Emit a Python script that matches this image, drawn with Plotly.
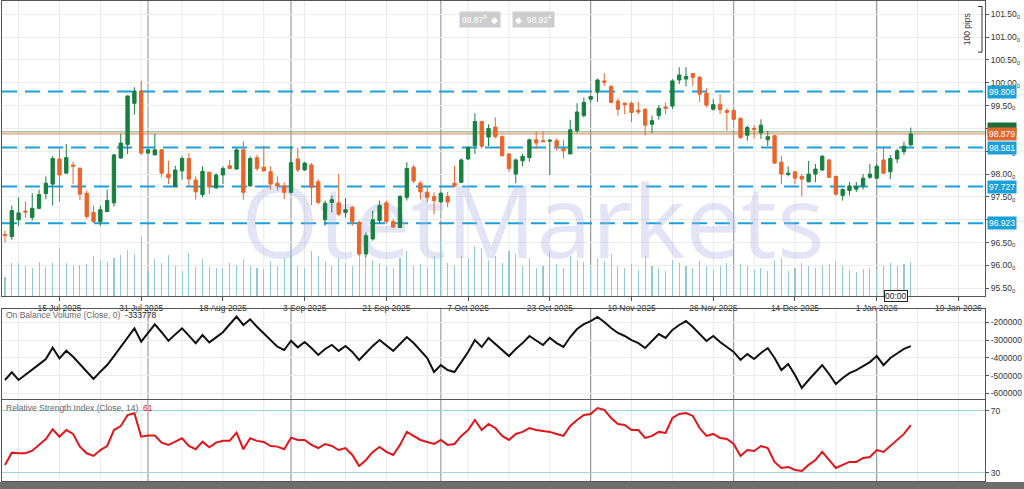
import plotly.graph_objects as go

# ---------------- data ----------------
open_ = [96.68, 96.63, 97.00, 97.19, 97.05, 97.25, 97.57, 97.78, 98.33, 98.02,
         98.20, 98.13, 97.58, 97.16, 96.96, 97.18, 97.37, 98.35, 98.65, 99.55,
         99.82, 98.46, 98.42, 98.53, 98.00, 97.73, 98.07, 98.34, 97.87, 97.55,
         98.04, 97.70, 97.98, 98.18, 98.11, 98.53, 97.74, 98.36, 98.15, 98.05,
         97.80, 97.74, 97.60, 98.33, 98.09, 98.20, 97.83, 97.00, 97.38, 97.37,
         97.16, 97.27, 96.94, 96.25, 96.58, 96.98, 97.37, 96.96, 96.83, 97.49,
         98.15, 97.80, 97.60, 97.51, 97.39, 97.51, 97.80, 97.82, 98.33, 98.62,
         99.15, 98.81, 99.03, 98.82, 98.44, 98.00, 98.29, 98.36, 98.75, 98.73,
         98.72, 98.73, 98.56, 98.44, 98.95, 99.28, 99.64, 99.79, 100.04, 99.92,
         99.60, 99.55, 99.55, 99.40, 99.42, 99.09, 99.28, 99.47, 99.49, 100.06,
         100.08, 100.20, 100.12, 99.77, 99.42, 99.53, 99.39, 99.39, 99.22, 98.85,
         99.00, 98.90, 98.75, 98.84, 98.26, 97.99, 98.05, 97.95, 97.83, 98.00,
         98.09, 98.31, 97.95, 97.53, 97.64, 97.67, 97.74, 97.93, 97.91, 98.31,
         98.05, 98.33, 98.49, 98.64]
high_ = [96.76, 97.31, 97.49, 97.40, 97.58, 97.66, 97.95, 98.39, 98.58, 98.66,
         98.27, 98.14, 97.64, 97.31, 97.31, 97.66, 98.44, 98.88, 99.72, 99.90,
         100.04, 98.55, 98.88, 98.55, 98.29, 98.18, 98.39, 98.46, 97.95, 98.17,
         98.05, 98.02, 98.17, 98.31, 98.56, 98.72, 98.39, 98.42, 98.62, 98.17,
         97.95, 97.82, 98.61, 98.58, 98.27, 98.24, 97.89, 97.42, 97.53, 98.00,
         97.47, 97.31, 96.98, 96.72, 97.20, 97.42, 97.42, 97.02, 97.54, 98.26,
         98.20, 97.85, 97.71, 97.60, 97.61, 97.61, 98.18, 98.34, 98.61, 99.33,
         99.17, 99.09, 99.24, 98.85, 98.46, 98.34, 98.44, 98.78, 98.93, 98.93,
         98.77, 98.78, 98.75, 99.19, 99.55, 99.68, 99.71, 100.09, 100.21, 99.95,
         99.66, 99.57, 99.59, 99.58, 99.44, 99.28, 99.51, 99.57, 100.08, 100.34,
         100.34, 100.21, 100.15, 99.88, 99.64, 99.75, 99.44, 99.42, 99.24, 99.06,
         99.07, 99.20, 98.95, 98.85, 98.40, 98.17, 98.07, 98.00, 98.29, 98.22,
         98.42, 98.33, 97.96, 97.69, 97.83, 97.83, 98.00, 98.22, 98.22, 98.61,
         98.42, 98.56, 98.71, 99.02]
low_ = [96.50, 96.56, 96.86, 97.04, 96.98, 97.23, 97.45, 97.31, 97.39, 98.02,
        97.78, 97.43, 97.02, 96.93, 96.87, 97.17, 97.29, 98.33, 98.44, 99.30,
        98.42, 98.44, 98.41, 97.93, 97.78, 97.72, 97.88, 97.73, 97.44, 97.49,
        97.56, 97.67, 97.78, 98.11, 98.10, 97.44, 97.73, 98.07, 98.06, 97.66,
        97.64, 97.45, 97.58, 98.04, 98.07, 97.32, 97.34, 96.87, 97.16, 97.08,
        97.05, 96.87, 96.21, 96.18, 96.54, 96.91, 96.91, 96.83, 96.82, 97.42,
        97.80, 97.45, 97.38, 97.12, 97.38, 97.27, 97.71, 97.80, 98.31, 98.44,
        98.56, 98.61, 98.78, 98.39, 98.05, 97.80, 98.17, 98.27, 98.55, 98.71,
        97.98, 98.51, 98.34, 98.44, 98.90, 99.24, 99.58, 99.58, 99.93, 99.55,
        99.28, 99.31, 99.14, 99.31, 98.85, 98.90, 99.19, 99.31, 99.42, 99.97,
        99.92, 99.93, 99.58, 99.46, 99.39, 99.31, 98.95, 99.19, 98.77, 98.73,
        98.78, 98.77, 98.61, 98.22, 97.78, 97.95, 97.78, 97.51, 97.82, 97.82,
        98.07, 97.91, 97.53, 97.42, 97.53, 97.61, 97.66, 97.89, 97.89, 98.00,
        97.89, 98.24, 98.42, 98.61]
close_ = [96.66, 97.20, 97.15, 97.17, 97.25, 97.55, 97.80, 98.34, 97.98, 98.36,
          98.17, 97.56, 97.07, 96.96, 97.22, 97.42, 98.42, 98.68, 99.71, 99.82,
          98.46, 98.53, 98.53, 98.02, 97.92, 98.09, 98.34, 97.89, 97.61, 98.06,
          97.72, 97.98, 98.12, 98.12, 98.53, 97.60, 98.34, 98.12, 98.07, 97.78,
          97.74, 97.60, 98.25, 98.09, 98.24, 97.71, 97.38, 97.36, 97.44, 97.12,
          97.22, 96.96, 96.25, 96.65, 97.00, 97.31, 96.96, 96.84, 97.51, 98.12,
          97.85, 97.61, 97.49, 97.42, 97.58, 97.39, 97.74, 98.31, 98.58, 99.15,
          98.61, 99.00, 98.82, 98.40, 98.12, 98.31, 98.39, 98.75, 98.68, 98.71,
          98.74, 98.61, 98.51, 98.97, 99.36, 99.57, 99.70, 100.06, 100.01, 99.57,
          99.42, 99.52, 99.35, 99.36, 99.07, 99.17, 99.44, 99.44, 100.04, 100.17,
          100.14, 100.12, 99.75, 99.51, 99.52, 99.41, 99.35, 99.20, 98.80, 99.02,
          98.98, 99.07, 98.82, 98.24, 98.00, 98.02, 97.91, 97.89, 98.00, 98.11,
          98.39, 97.93, 97.56, 97.66, 97.74, 97.73, 97.91, 98.00, 98.17, 98.02,
          98.34, 98.51, 98.61, 98.879]
volume = [19, 33, 33, 30, 28, 34, 29, 33, 48, 33,
          30, 31, 32, 40, 36, 34, 38, 41, 46, 42,
          60, 25, 37, 33, 41, 30, 25, 43, 29, 37,
          29, 28, 28, 33, 31, 37, 30, 28, 27, 35,
          30, 38, 42, 30, 28, 45, 40, 35, 30, 38,
          33, 30, 48, 40, 36, 33, 30, 28, 38, 45,
          30, 32, 28, 40, 55, 33, 30, 40, 38, 50,
          48, 36, 40, 33, 45, 42, 30, 38, 28, 30,
          44, 32, 28, 40, 36, 34, 30, 38, 35, 42,
          30, 28, 32, 26, 40, 30, 28, 25, 36, 33,
          30, 28, 35, 30, 26, 30, 33, 27, 32, 30,
          26, 28, 25, 36, 38, 25, 28, 33, 30, 28,
          30, 32, 35, 30, 26, 24, 27, 28, 26, 30,
          33, 30, 32, 34]
obv = [-525000, -482000, -525000, -497000, -469000, -437000, -407000, -343000, -403000, -360000,
       -394000, -435000, -476000, -519000, -478000, -441000, -390000, -337000, -281000, -234000,
       -309000, -262000, -211000, -256000, -304000, -268000, -234000, -275000, -318000, -272000,
       -313000, -285000, -256000, -211000, -168000, -215000, -183000, -225000, -262000, -304000,
       -337000, -356000, -304000, -341000,
       -311000, -345000, -384000, -350000, -327000, -361000, -333000, -367000, -412000, -373000,
       -333000, -300000, -333000, -361000, -322000, -283000, -317000, -356000, -401000, -480000,
       -441000, -469000, -480000, -424000, -367000, -300000, -339000, -288000, -322000, -356000,
       -390000, -350000, -317000, -277000, -305000, -328000, -288000, -317000, -339000, -283000,
       -238000, -210000, -193000, -170000, -198000, -232000, -260000, -277000, -300000, -317000,
       -345000, -305000, -266000, -288000, -243000, -215000, -193000, -226000, -266000, -305000,
       -277000, -311000, -339000, -367000, -412000, -379000, -407000, -373000, -345000, -401000,
       -469000, -435000, -497000, -570000, -525000, -480000, -441000, -491000, -548000, -514000,
       -486000, -469000, -446000, -424000, -390000, -441000, -401000, -373000, -350000, -333778]
rsi = [35.0, 42.9, 42.5, 42.5, 44.2, 47.9, 51.7, 58.0, 53.2, 57.5,
       55.0, 46.8, 42.5, 40.8, 44.6, 47.2, 57.5, 60.1, 67.2, 68.3,
       53.2, 53.9, 53.9, 49.4, 47.9, 50.0, 52.2, 47.2, 45.1, 50.0,
       46.4, 49.4, 50.6, 50.6, 55.8, 45.1, 52.2, 50.5, 49.8, 47.2,
       46.8, 45.1, 52.6, 51.1,
       51.1, 47.9, 45.9, 48.5, 47.2, 44.6, 45.9, 41.4, 34.3, 38.2,
       43.4, 46.6, 43.4, 41.4, 47.9, 56.3, 53.7, 51.1, 49.8, 48.5,
       51.1, 47.9, 48.5, 53.7, 57.5, 64.0, 57.5, 61.4, 58.8, 53.7,
       51.1, 55.0, 56.3, 58.8, 57.5, 56.9, 56.3, 55.0, 53.7, 60.1,
       64.0, 67.2, 67.9, 71.7, 70.5, 65.3, 61.4, 60.8, 57.5, 57.5,
       52.4, 53.7, 56.3, 55.6, 65.3, 67.9, 68.5, 66.6, 58.8, 53.7,
       55.0, 52.4, 51.7, 48.5, 40.8, 44.6, 44.0, 47.2, 45.9, 36.9,
       33.0, 33.7, 31.7, 31.1, 35.0, 38.2, 43.4, 38.2, 33.0, 35.0,
       36.9, 36.9, 39.5, 40.1, 44.6, 43.4, 47.2, 51.1, 55.0, 60.7]

tick_pos = [8, 20, 32, 44, 56, 68, 80, 92, 104, 116, 128, 140]
tick_labels = ["15 Jul 2025", "31 Jul 2025", "18 Aug 2025", "3 Sep 2025", "21 Sep 2025",
               "7 Oct 2025", "23 Oct 2025", "10 Nov 2025", "26 Nov 2025", "14 Dec 2025",
               "1 Jan 2026", "19 Jan 2026"]
month_lines = [21, 42, 64, 86, 107, 128]
levels = [99.806, 98.581, 97.727, 96.923]
bid, ask = 98.879, 98.924
price_ticks = [95.5, 96.0, 96.5, 97.0, 97.5, 98.0, 98.5, 99.0, 99.5, 100.0, 100.5, 101.0, 101.5]
obv_ticks = [-200000, -300000, -400000, -500000, -600000]
rsi_ticks = [30, 70]

# ---------------- layout helpers ----------------
W, H = 1024, 489
ML, MR = 2, 39
PW = W - ML - MR
def py(px):
    return 1 - px / H
def pxx(px):
    return (px - ML) / PW

main_dom = [py(296), py(1)]
obv_dom = [py(399), py(309)]
rsi_dom = [py(481), py(400)]
x_range = [-0.44, 143.9]

GREEN = "#17803f"
ORANGE = "#e9652c"
CYAN = "#1ca0da"
FONT = "Liberation Sans"
FS = 8.5

N = len(close_)
x = list(range(N))

fig = go.Figure()

# watermark on base price axis (drawn beneath overlaid candle axis)
fig.add_trace(go.Scatter(
    x=[77.5], y=[96.72], mode="text", text=["OtetMarkets"],
    textfont=dict(family="Open Sans", size=100, color="rgba(178,184,232,0.36)"),
    textposition="middle center", xaxis="x", yaxis="y", hoverinfo="skip", showlegend=False))

# volume
fig.add_trace(go.Bar(x=x, y=volume, width=0.16, marker=dict(color="#92c9d4", line=dict(width=0)),
                     xaxis="x", yaxis="y4", showlegend=False, hoverinfo="skip"))

# candles
fig.add_trace(go.Candlestick(
    x=x, open=open_, high=high_, low=low_, close=close_,
    increasing=dict(line=dict(color=GREEN, width=1), fillcolor=GREEN),
    decreasing=dict(line=dict(color=ORANGE, width=1), fillcolor=ORANGE),
    whiskerwidth=0, xaxis="x", yaxis="y5", showlegend=False))

# OBV
fig.add_trace(go.Scatter(x=x, y=obv, mode="lines", line=dict(color="#111111", width=2),
                         xaxis="x2", yaxis="y2", showlegend=False, hoverinfo="skip"))
# RSI
fig.add_trace(go.Scatter(x=x, y=rsi, mode="lines", line=dict(color="#e0161a", width=2),
                         xaxis="x3", yaxis="y3", showlegend=False, hoverinfo="skip"))

axis_common = dict(showline=True, linecolor="#555555", linewidth=1, mirror=True,
                   zeroline=False, automargin=False)
tickfont = dict(family=FONT, size=FS, color="#333333")

fig.update_layout(
    width=W, height=H, margin=dict(l=ML, r=MR, t=0, b=0, autoexpand=False),
    paper_bgcolor="white", plot_bgcolor="white", showlegend=False,
    font=dict(family=FONT, size=FS, color="#333333"),
    hovermode=False, bargap=0,
    xaxis=dict(domain=[0, 1], anchor="y", range=x_range, tickmode="array",
               tickvals=tick_pos, ticktext=tick_labels, ticks="outside", ticklen=4,
               tickcolor="#555555", tickfont=tickfont, showgrid=False,
               rangeslider=dict(visible=False), **axis_common),
    xaxis2=dict(domain=[0, 1], anchor="y2", range=x_range, matches="x",
                showticklabels=False, ticks="", showgrid=False, **axis_common),
    xaxis3=dict(domain=[0, 1], anchor="y3", range=x_range, matches="x",
                showticklabels=False, ticks="", showgrid=False, **axis_common),
    yaxis=dict(domain=main_dom, anchor="x", side="right", range=[95.33, 101.79],
               tickmode="array", tickvals=price_ticks,
               ticktext=[f"{v:.2f}<sub>0</sub>" for v in price_ticks],
               ticks="outside", ticklen=3, tickcolor="#555555", tickfont=tickfont,
               showgrid=True, gridcolor="#ececec", gridwidth=1, **axis_common),
    yaxis4=dict(overlaying="y", anchor="x", range=[0, 295], visible=False, automargin=False),
    yaxis5=dict(overlaying="y", anchor="x", range=[95.33, 101.79], visible=False, automargin=False),
    yaxis2=dict(domain=obv_dom, anchor="x2", side="right", range=[-632000, -125000],
                tickmode="array", tickvals=obv_ticks, ticktext=[str(v) for v in obv_ticks],
                ticks="outside", ticklen=3, tickcolor="#555555", tickfont=tickfont,
                showgrid=True, gridcolor="#ececec", **axis_common),
    yaxis3=dict(domain=rsi_dom, anchor="x3", side="right", range=[24.6, 76.9],
                tickmode="array", tickvals=rsi_ticks, ticktext=[str(v) for v in rsi_ticks],
                ticks="outside", ticklen=3, tickcolor="#555555", tickfont=tickfont,
                showgrid=True, gridcolor="#9fd4e3", gridwidth=1.5, **axis_common),
)

shapes = []
# vertical grid lines
for yr in ["y domain", "y2 domain", "y3 domain"]:
    for k in range(2, 144, 6):
        shapes.append(dict(type="line", xref="x", yref=yr, x0=k, x1=k, y0=0, y1=1,
                           line=dict(color="#e8e8e8", width=1), layer="below"))
    for k in month_lines:
        shapes.append(dict(type="line", xref="x", yref=yr, x0=k, x1=k, y0=0, y1=1,
                           line=dict(color="#8a8a8a", width=1), layer="below"))
# support/resistance levels
for lv in levels:
    shapes.append(dict(type="line", xref="paper", yref="y", x0=0, x1=1, y0=lv, y1=lv,
                       line=dict(color=CYAN, width=2, dash="15px,8px"), layer="below"))
# bid / ask lines
shapes.append(dict(type="line", xref="paper", yref="y", x0=0, x1=1, y0=ask, y1=ask,
                   line=dict(color="#7f9e66", width=1), layer="below"))
shapes.append(dict(type="line", xref="paper", yref="y", x0=0, x1=1, y0=bid, y1=bid,
                   line=dict(color="#d9845a", width=1), layer="below"))
# 100 pips bracket
bx = pxx(982)
shapes.append(dict(type="line", xref="paper", yref="y", x0=bx, x1=bx, y0=100.67, y1=101.67,
                   line=dict(color="#333333", width=1)))
for yy in (100.67, 101.67):
    shapes.append(dict(type="line", xref="paper", yref="y", x0=pxx(978), x1=bx, y0=yy, y1=yy,
                       line=dict(color="#333333", width=1)))
# bottom bar
shapes.append(dict(type="rect", xref="paper", yref="paper", x0=-ML / PW, x1=1 + MR / PW,
                   y0=0, y1=py(482), fillcolor="#6e6e6e", line=dict(width=0)))
fig.update_layout(shapes=shapes)

ann = []
for lv in levels:
    ann.append(dict(xref="paper", yref="y", x=1, y=lv, xanchor="left", yanchor="middle",
                    xshift=2, text=f"{lv:.3f}", showarrow=False, bgcolor=CYAN,
                    font=dict(family=FONT, size=FS, color="white"), borderpad=1))
ann.append(dict(xref="paper", yref="y", x=1, y=ask, xanchor="left", yanchor="middle",
                xshift=2, yshift=3, text="98.924", showarrow=False, bgcolor="#1b6e3a",
                font=dict(family=FONT, size=FS, color="#1b6e3a"), borderpad=1))
ann.append(dict(xref="paper", yref="y", x=1, y=bid, xanchor="left", yanchor="middle",
                xshift=2, text="98.879", showarrow=False, bgcolor="#e2672f",
                font=dict(family=FONT, size=FS, color="white"), borderpad=1))
# 100 pips text
ann.append(dict(xref="paper", yref="y", x=pxx(974), y=101.17, text="100 pips", textangle=-90,
                showarrow=False, font=dict(family=FONT, size=FS, color="#333333")))
# top bid/ask boxes
ann.append(dict(xref="paper", yref="paper", x=pxx(480), y=py(11), text="98.87<sup>9</sup>  ◆",
                showarrow=False, bgcolor="#cdcdcd", font=dict(family=FONT, size=FS, color="white"),
                borderpad=2))
ann.append(dict(xref="paper", yref="paper", x=pxx(533), y=py(11), text="◆  98.92<sup>4</sup>",
                showarrow=False, bgcolor="#cdcdcd", font=dict(family=FONT, size=FS, color="white"),
                borderpad=2))
# indicator labels
ann.append(dict(xref="paper", yref="paper", x=pxx(4), y=py(315), xanchor="left", yanchor="middle",
                text="On Balance Volume (Close, 0)  <span style='color:#222'>-333778</span>",
                showarrow=False, font=dict(family=FONT, size=FS, color="#666666")))
ann.append(dict(xref="paper", yref="paper", x=pxx(4), y=py(408), xanchor="left", yanchor="middle",
                text="Relative Strength Index (Close, 14)  <span style='color:#d42020'>61</span>",
                showarrow=False, font=dict(family=FONT, size=FS, color="#666666")))
# time marker
ann.append(dict(xref="paper", yref="paper", x=pxx(908), y=py(296), yanchor="middle",
                text="00:00", showarrow=False, bgcolor="white", bordercolor="#222222",
                borderwidth=1, borderpad=0, font=dict(family=FONT, size=FS, color="#222222")))
fig.update_layout(annotations=ann)

fig.write_html("out.html", config={"displayModeBar": False, "staticPlot": True},
               post_script="document.body.style.margin='0px';document.body.style.padding='0px';"
                           "document.body.style.overflow='hidden';")
